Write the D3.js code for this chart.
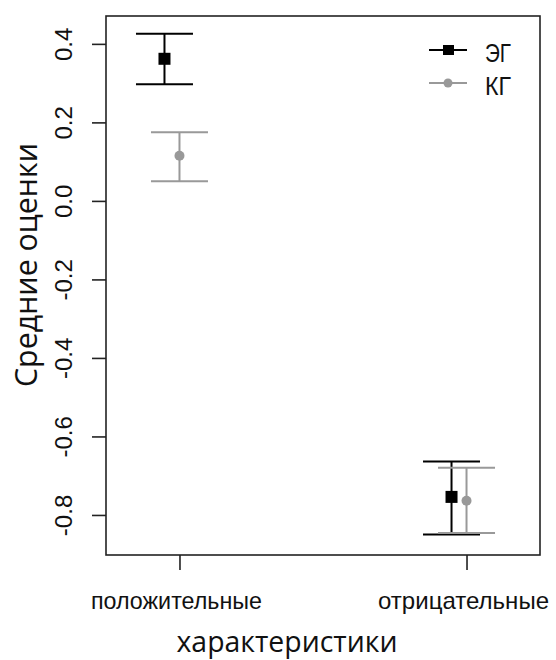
<!DOCTYPE html>
<html>
<head>
<meta charset="utf-8">
<script src="https://cdn.jsdelivr.net/npm/d3@7"></script>
<style>
  body { margin: 0; background: #fff; }
  text { font-family: "Liberation Sans", Arial, sans-serif; fill: #111; }
</style>
</head>
<body>
<script>
// категории и группы
const categories = ['положительные', 'отрицательные'];
const groups = ['ЭГ', 'КГ'];
// средние и границы (по категориям)
const egMean = [0.362, -0.754];
const egLow = [0.297, -0.850];
const egHigh = [0.426, -0.664];
const kgMean = [0.115, -0.764];
const kgLow = [0.050, -0.846];
const kgHigh = [0.175, -0.680];
const yTicks = [-0.8, -0.6, -0.4, -0.2, 0.0, 0.2, 0.4];

const W = 556, H = 660;
const plot = {left: 106, right: 540, top: 16, bottom: 555};

const svg = d3.select('body').append('svg')
    .attr('width', W)
    .attr('height', H);

const x = d3.scalePoint()
    .domain(categories)
    .range([plot.left, plot.right])
    .padding(0.256);

const y = d3.scaleLinear()
    .domain([-0.902, 0.471])
    .range([plot.bottom, plot.top]);

const series = [
    {name: groups[0], mean: egMean, low: egLow, high: egHigh, color: '#000', shift: -15, shape: 'square'},
    {name: groups[1], mean: kgMean, low: kgLow, high: kgHigh, color: '#999', shift: 0, shape: 'circle'}
];

// рамка
svg.append('rect')
    .attr('x', plot.left).attr('y', plot.top)
    .attr('width', plot.right - plot.left)
    .attr('height', plot.bottom - plot.top)
    .attr('fill', 'none')
    .attr('stroke', '#222')
    .attr('stroke-width', 1.6);

// ось y (обычный дефис, как в R)
const fmt = d => d.toFixed(1);
const yAxis = svg.append('g')
    .attr('transform', 'translate(' + plot.left + ',0)')
    .call(d3.axisLeft(y).tickValues(yTicks).tickSize(14).tickFormat(fmt));
yAxis.select('.domain').remove();
yAxis.selectAll('.tick line').attr('stroke', '#222').attr('stroke-width', 1.6);
yAxis.selectAll('.tick text')
    .attr('transform', 'rotate(-90)')
    .attr('x', 0)
    .attr('y', -34)
    .attr('dy', 0)
    .attr('text-anchor', 'middle')
    .style('font-size', '24px')
    .style('font-family', '"Liberation Sans", Arial, sans-serif')
    .attr('fill', '#222');

// ось x
const xAxis = svg.append('g')
    .attr('transform', 'translate(0,' + plot.bottom + ')')
    .call(d3.axisBottom(x).tickSize(15).tickFormat(''));
xAxis.select('.domain').remove();
xAxis.selectAll('.tick line').attr('stroke', '#222').attr('stroke-width', 1.6);

svg.selectAll('text.xlab')
    .data(categories)
    .enter().append('text')
    .attr('class', 'xlab')
    .attr('x', d => x(d) - 3)
    .attr('y', 609)
    .attr('text-anchor', 'middle')
    .attr('textLength', 171)
    .attr('lengthAdjust', 'spacingAndGlyphs')
    .style('font-size', '24px')
    .text(d => d);

// подписи осей
svg.append('text')
    .attr('x', 287)
    .attr('y', 652)
    .attr('text-anchor', 'middle')
    .attr('textLength', 221)
    .attr('lengthAdjust', 'spacingAndGlyphs')
    .style('font-family', '"Open Sans", "DejaVu Sans", sans-serif')
    .style('font-size', '29px')
    .text('характеристики');

svg.append('text')
    .attr('transform', 'translate(37,265) rotate(-90)')
    .attr('text-anchor', 'middle')
    .attr('textLength', 244)
    .attr('lengthAdjust', 'spacingAndGlyphs')
    .style('font-family', '"Open Sans", "DejaVu Sans", sans-serif')
    .style('font-size', '31px')
    .text('Средние оценки');

// доверительные интервалы и точки
const capHalf = 28.5;
series.forEach(s => {
    const g = svg.append('g');
    categories.forEach((c, i) => {
        const cx = x(c) + s.shift;
        g.append('line')
            .attr('x1', cx).attr('x2', cx)
            .attr('y1', y(s.low[i])).attr('y2', y(s.high[i]))
            .attr('stroke', s.color).attr('stroke-width', 2);
        [s.low[i], s.high[i]].forEach(v => {
            g.append('line')
                .attr('x1', cx - capHalf).attr('x2', cx + capHalf)
                .attr('y1', y(v)).attr('y2', y(v))
                .attr('stroke', s.color).attr('stroke-width', 2);
        });
        if (s.shape === 'square') {
            g.append('rect')
                .attr('x', cx - 6).attr('y', y(s.mean[i]) - 6)
                .attr('width', 12).attr('height', 12)
                .attr('fill', s.color);
        } else {
            g.append('circle')
                .attr('cx', cx).attr('cy', y(s.mean[i]))
                .attr('r', 5)
                .attr('fill', s.color);
        }
    });
});

// легенда
const legend = svg.append('g');
series.forEach((s, i) => {
    const ly = 50 + i * 33;
    legend.append('line')
        .attr('x1', 429).attr('x2', 467)
        .attr('y1', ly).attr('y2', ly)
        .attr('stroke', s.color).attr('stroke-width', 2);
    if (s.shape === 'square') {
        legend.append('rect')
            .attr('x', 443).attr('y', ly - 5)
            .attr('width', 11).attr('height', 10)
            .attr('fill', s.color);
    } else {
        legend.append('circle')
            .attr('cx', 448).attr('cy', ly)
            .attr('r', 4.5)
            .attr('fill', s.color);
    }
    legend.append('text')
        .attr('x', 485)
        .attr('y', ly + 12)
        .attr('textLength', 26)
        .attr('lengthAdjust', 'spacingAndGlyphs')
        .style('font-size', '25px')
        .attr('fill', '#111')
        .text(s.name);
});
</script>
</body>
</html>
